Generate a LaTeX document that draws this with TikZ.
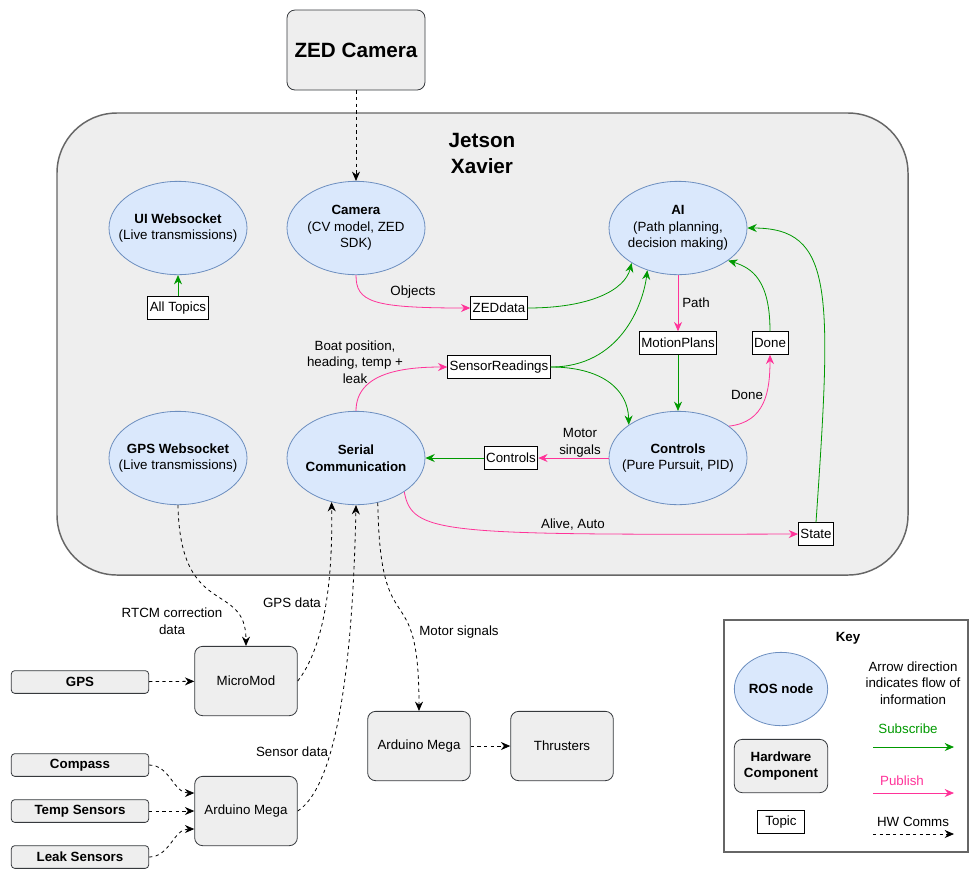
\documentclass[tikz,border=0pt]{standalone}
\usepackage{fontspec}
\setmainfont{Liberation Sans}
\usetikzlibrary{shapes.geometric,arrows.meta}

\definecolor{rosfill}{HTML}{DAE8FC}
\definecolor{rosline}{HTML}{6C8EBF}
\definecolor{hwfill}{HTML}{EEEEEE}
\definecolor{hwline}{HTML}{36393D}
\definecolor{boardline}{HTML}{666666}
\definecolor{subgreen}{HTML}{009900}
\definecolor{pubpink}{HTML}{FF3399}

\tikzset{
  rosnode/.style={ellipse, draw=rosline, fill=rosfill, minimum width=103.5pt, minimum height=70pt, align=center, inner xsep=-8pt, inner ysep=0pt},
  hwbox/.style={draw=hwline, fill=hwfill, rounded corners=6pt, minimum width=77pt, minimum height=52pt, align=center},
  sensorbox/.style={draw=hwline, fill=hwfill, rounded corners=2.5pt, minimum width=103pt, minimum height=17pt, inner sep=0pt, font=\bfseries},
  topicbox/.style={draw, fill=white, inner sep=1.5pt, minimum height=17pt},
  subarrow/.style={draw=subgreen, -{Stealth[length=7pt,width=6pt]}},
  pubarrow/.style={draw=pubpink, -{Stealth[length=7pt,width=6pt]}},
  hwarrow/.style={draw=black, dash pattern=on 2.5pt off 2.5pt, -{Stealth[length=7pt,width=6pt]}},
  lbl/.style={align=center, inner sep=0pt}
}

\begin{document}
\begin{tikzpicture}[x=0.75pt, y=-0.75pt, font=\fontsize{10}{12.4}\selectfont, line width=0.6pt]
\useasboundingbox (0,0) rectangle (969,869);

% Jetson board
\node[draw=boardline, fill=hwfill, line width=1.1pt, rounded corners=45pt, minimum width=638.25pt, minimum height=346.5pt] (board) at (482.5,344) {};
\node[lbl, font=\fontsize{15.5}{19.5}\selectfont\bfseries] (jetson) at (482,153) {Jetson\\Xavier};

% hardware on top
\node[hwbox, minimum width=103.5pt, minimum height=60pt, font=\fontsize{15.5}{18}\selectfont\bfseries] (zedcam) at (356,50) {ZED Camera};

% ROS nodes
\node[rosnode] (uiws) at (178,228) {\textbf{UI Websocket}\\(Live transmissions)};
\node[rosnode] (camera) at (356,228) {\textbf{Camera}\\(CV model, ZED\\SDK)};
\node[rosnode] (ai) at (678,228) {\textbf{AI}\\(Path planning,\\decision making)};
\node[rosnode] (gpsws) at (178,458) {\textbf{GPS Websocket}\\(Live transmissions)};
\node[rosnode, font=\fontsize{10}{12.4}\selectfont\bfseries] (serial) at (356,458) {Serial\\Communication};
\node[rosnode] (controls) at (678,458) {\textbf{Controls}\\(Pure Pursuit, PID)};

% topics
\node[topicbox] (alltopics) at (178,308) {All Topics};
\node[topicbox] (zeddata) at (499,308) {ZEDdata};
\node[topicbox] (sensread) at (499,367) {SensorReadings};
\node[topicbox] (motionplans) at (678,343) {MotionPlans};
\node[topicbox] (donetopic) at (770,343) {Done};
\node[topicbox] (ctrltopic) at (511,458) {Controls};
\node[topicbox] (state) at (816,534) {State};

% hardware below
\node[hwbox] (micromod) at (246,681) {MicroMod};
\node[hwbox] (ardsens) at (246,811) {Arduino Mega};
\node[hwbox] (ardmotor) at (419,746) {Arduino Mega};
\node[hwbox] (thrusters) at (562,746) {Thrusters};
\node[sensorbox] (gps) at (80,682) {GPS};
\node[sensorbox] (compass) at (80,765) {Compass};
\node[sensorbox] (temp) at (80,811) {Temp Sensors};
\node[sensorbox] (leak) at (80,857) {Leak Sensors};

% publish / subscribe
\draw[hwarrow] (zedcam) -- (camera);
\draw[subarrow] (alltopics) -- (uiws);
\draw[pubarrow] (camera.south) .. controls (356,302) and (372,308) .. (zeddata.west);
\draw[subarrow] (zeddata.east) .. controls (590,308) and (625,290) .. (ai.217);
\draw[subarrow] (sensread.east) .. controls (620,367) and (643,305) .. (ai.234);
\draw[subarrow] (sensread.east) .. controls (600,367) and (628,388) .. (controls.146);
\draw[pubarrow] (ai) -- (motionplans);
\draw[subarrow] (motionplans) -- (controls);
\draw[pubarrow] (controls.32) .. controls (765,422) and (770,392) .. (donetopic.south);
\draw[subarrow] (donetopic.north) .. controls (770,280) and (752,268) .. (ai.327);
\draw[subarrow] (state.north) .. controls (832,290) and (834,228) .. (ai.east);
\draw[pubarrow] (controls) -- (ctrltopic);
\draw[subarrow] (ctrltopic) -- (serial);
\draw[pubarrow] (serial.north) .. controls (356,372) and (405,367) .. (sensread.west);
\draw[pubarrow] (serial.325) .. controls (412,534) and (440,535) .. (state.west);

\node[lbl] (lobjects) at (413,292) {Objects};
\node[lbl] (lpath) at (696,303) {Path};
\node[lbl] (lboat) at (355,362) {Boat position,\\heading, temp +\\leak};
\node[lbl] (ldone) at (747,395) {Done};
\node[lbl] (lmotor) at (580,443) {Motor\\singals};
\node[lbl] (lalive) at (573,525) {Alive, Auto};

% hardware comms
\draw[hwarrow] (gpsws.south) .. controls (180,620) and (246,580) .. (micromod.north);
\draw[hwarrow] (micromod.east) .. controls (322,650) and (333,590) .. (serial.241);
\draw[hwarrow] (ardsens.east) .. controls (330,790) and (352,700) .. (serial.south);
\draw[hwarrow] (serial.296) .. controls (380,650) and (419,570) .. (ardmotor.north);
\draw[hwarrow] (gps) -- (micromod);
\draw[hwarrow] (compass.east) to[out=0,in=180] ([yshift=13.5pt]ardsens.west);
\draw[hwarrow] (temp) -- (ardsens);
\draw[hwarrow] (leak.east) to[out=0,in=180] ([yshift=-13.5pt]ardsens.west);
\draw[hwarrow] (ardmotor) -- (thrusters);

\node[lbl] (lrtcm) at (172,621) {RTCM correction\\data};
\node[lbl] (lgpsdata) at (292,603) {GPS data};
\node[lbl] (lsensdata) at (292,752) {Sensor data};
\node[lbl] (lmotorsig) at (459,632) {Motor signals};

% key
\node[draw=boardline, line width=1pt, minimum width=183pt, minimum height=174pt] (keybox) at (846,736) {};
\node[lbl, font=\bfseries] (keytitle) at (848,638) {Key};
\node[rosnode, minimum width=70pt, minimum height=55pt, font=\bfseries] (keyros) at (781,689) {ROS node};
\node[hwbox, minimum width=70pt, minimum height=40pt, font=\bfseries] (keyhw) at (781,766) {Hardware\\Component};
\node[topicbox, minimum width=35pt] (keytopic) at (781,822) {Topic};
\node[lbl] (keyflow) at (913,683) {Arrow direction\\indicates flow of\\information};
\node[lbl, text=subgreen] (keysub) at (908,729) {Subscribe};
\node[lbl, text=pubpink] (keypub) at (902,781) {Publish};
\node[lbl] (keyhwc) at (913,822) {HW Comms};
\coordinate (subA) at (873,747); \coordinate (subB) at (954,747);
\coordinate (pubA) at (873,793); \coordinate (pubB) at (954,793);
\coordinate (hwA) at (873,834); \coordinate (hwB) at (954,834);
\draw[subarrow] (subA) -- (subB);
\draw[pubarrow] (pubA) -- (pubB);
\draw[hwarrow] (hwA) -- (hwB);
\end{tikzpicture}
\end{document}
